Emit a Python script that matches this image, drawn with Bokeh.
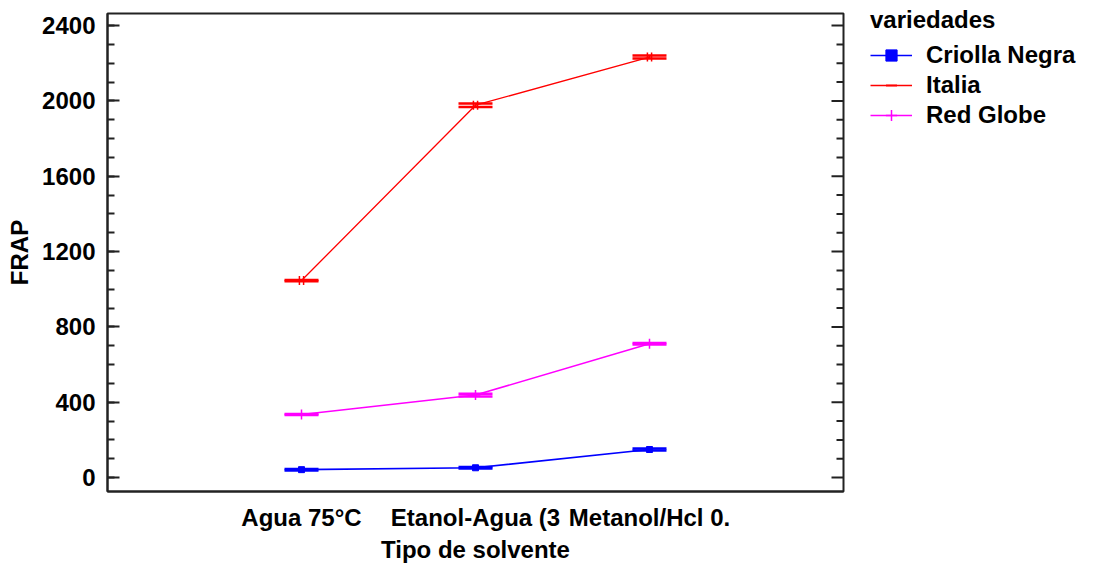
from bokeh.plotting import figure
from bokeh.models import (ColumnDataSource, FixedTicker, SingleIntervalTicker,
                          Legend, LegendItem, Whisker, TeeHead, Range1d)
from bokeh.transform import dodge
from bokeh.embed import file_html
from bokeh.resources import INLINE

# ---- data ----
solventes = ["Agua 75°C", "Etanol-Agua (3", "Metanol/Hcl 0."]
variedades = ["Criolla Negra", "Italia", "Red Globe"]
criolla_negra = [42, 52, 149]
italia = [1046, 1977, 2233]
red_globe = [335, 438, 710]
criolla_negra_int = [4, 4, 5]
italia_int = [3, 9, 8]
red_globe_int = [3, 7, 4]
colores = ["#0000FF", "#FF0000", "#FF00FF"]

FONT = "Liberation Sans"
xs = list(range(1, len(solventes) + 1))

X0, X1 = -0.115, 4.115
FW = 736
p = figure(frame_width=FW, frame_height=478, output_backend="svg", toolbar_location=None,
           x_range=Range1d(X0, X1), y_range=Range1d(-74, 2464),
           min_border_left=107, min_border_right=0, min_border_top=13, min_border_bottom=68)
p.grid.visible = False
p.outline_line_color = "#222222"
p.outline_line_width = 2
p.background_fill_color = "white"
p.border_fill_color = "white"

# x axis
p.xaxis.ticker = FixedTicker(ticks=xs)
p.xaxis.major_label_overrides = {x: s for x, s in zip(xs, solventes)}
p.xaxis.major_tick_line_color = None
p.xaxis.minor_tick_line_color = None
p.xaxis.axis_label = "Tipo de solvente"
p.xaxis.major_label_standoff = 6
p.xaxis.axis_label_standoff = 2

# y axis
yticker = SingleIntervalTicker(interval=400, num_minor_ticks=4)
p.yaxis.ticker = yticker
p.yaxis.axis_label = "FRAP"
p.yaxis.major_label_standoff = 12
p.yaxis.axis_label_standoff = 6

for ax in [p.xaxis[0], p.yaxis[0]]:
    ax.axis_line_color = "#222222"
    ax.axis_line_width = 2
    ax.major_label_text_font = FONT
    ax.major_label_text_font_style = "bold"
    ax.major_label_text_font_size = "24px"
    ax.major_label_text_color = "black"
    ax.axis_label_text_font = FONT
    ax.axis_label_text_font_style = "bold"
    ax.axis_label_text_font_size = "24px"
    ax.axis_label_text_color = "black"

ax = p.yaxis[0]
ax.major_tick_in = 12
ax.major_tick_out = 0
ax.minor_tick_in = 7
ax.minor_tick_out = 0
ax.major_tick_line_color = "#222222"
ax.minor_tick_line_color = "#222222"
ax.major_tick_line_width = 2
ax.minor_tick_line_width = 2

# inward ticks on the right frame edge (mirror of the left axis ticks)
px_per_unit = FW / (X1 - X0)
major_vals = list(range(0, 2401, 400))
minor_vals = [v for v in range(0, 2401, 100) if v % 400 != 0]
p.segment(x0=[X1] * len(major_vals), x1=[X1 - 12 / px_per_unit] * len(major_vals),
          y0=major_vals, y1=major_vals, line_color="#222222", line_width=2)
p.segment(x0=[X1] * len(minor_vals), x1=[X1 - 7 / px_per_unit] * len(minor_vals),
          y0=minor_vals, y1=minor_vals, line_color="#222222", line_width=2)

series = [criolla_negra, italia, red_globe]
ints = [criolla_negra_int, italia_int, red_globe_int]
items = []
for name, vals, hw, col in zip(variedades, series, ints, colores):
    src = ColumnDataSource(dict(x=xs, y=vals,
                                upper=[v + h for v, h in zip(vals, hw)],
                                lower=[v - h for v, h in zip(vals, hw)]))
    lw = 1.3 if name == "Italia" else 1.6
    r_line = p.line("x", "y", source=src, line_color=col, line_width=lw)
    w = Whisker(base="x", upper="upper", lower="lower", source=src, dimension="height",
                line_color=col, line_width=2,
                upper_head=TeeHead(size=34, line_color=col, line_width=2.5),
                lower_head=TeeHead(size=34, line_color=col, line_width=2.5))
    p.add_layout(w)
    rends = [r_line]
    if name == "Criolla Negra":
        rends.append(p.scatter("x", "y", source=src, marker="square", size=6,
                               fill_color=col, line_color=col))
    elif name == "Italia":
        rends.append(p.scatter(dodge("x", -0.012, range=p.x_range), "y", source=src,
                               marker="dash", angle=1.5708, size=9, line_color=col, line_width=1.5))
        rends.append(p.scatter(dodge("x", 0.012, range=p.x_range), "y", source=src,
                               marker="dash", angle=1.5708, size=9, line_color=col, line_width=1.5))
    else:
        rends.append(p.scatter("x", "y", source=src, marker="cross", size=10,
                               line_color=col, line_width=1.5))
    items.append(LegendItem(label=name, renderers=rends))

legend = Legend(items=items, title="variedades", location=(27, 362))
legend.margin = 12
legend.padding = 6
legend.border_line_color = None
legend.background_fill_alpha = 0
legend.title_text_font = FONT
legend.title_text_font_style = "bold"
legend.title_text_font_size = "24px"
legend.title_text_color = "black"
legend.label_text_font = FONT
legend.label_text_font_style = "bold"
legend.label_text_font_size = "24px"
legend.label_text_color = "black"
legend.glyph_width = 42
legend.glyph_height = 28
legend.label_height = 28
legend.label_standoff = 14
legend.spacing = 2
legend.title_standoff = 7
p.add_layout(legend, "right")

open("out.html", "w").write(file_html(p, INLINE))
